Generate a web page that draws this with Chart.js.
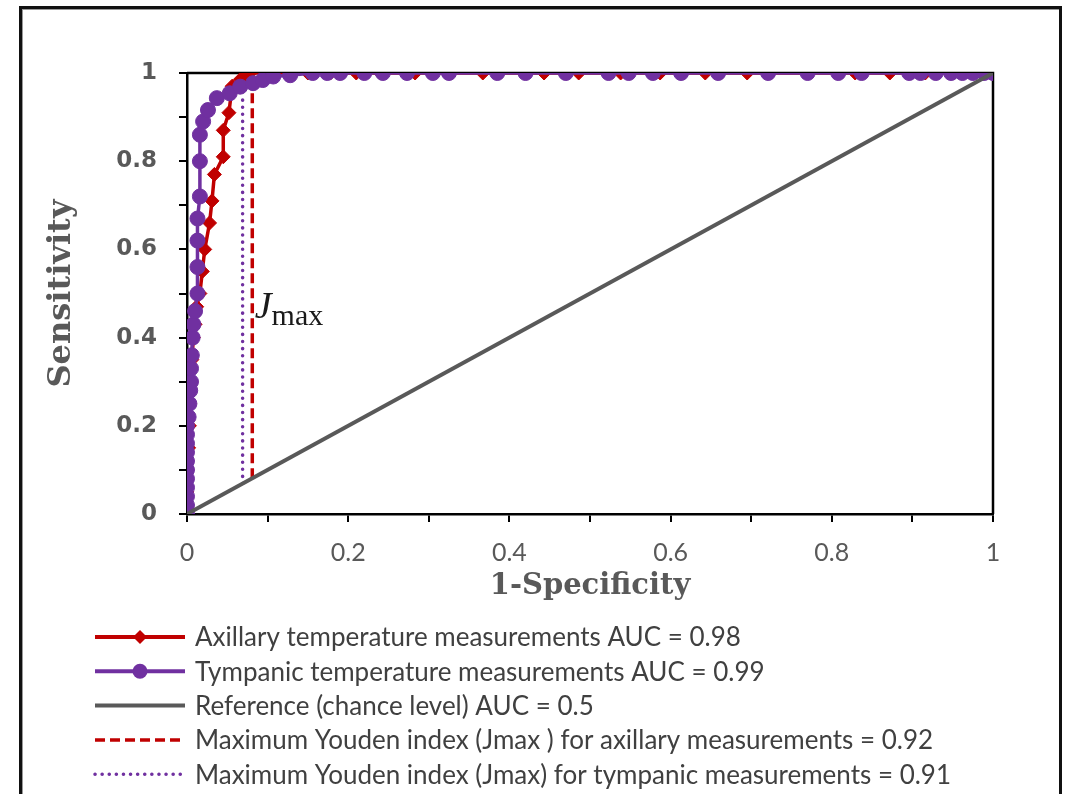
<!DOCTYPE html>
<html>
<head>
<meta charset="utf-8">
<script src="https://cdn.jsdelivr.net/npm/chart.js@4/dist/chart.umd.min.js"></script>
<style>
  html, body { margin: 0; padding: 0; background: #fff; }
  #wrap { position: relative; width: 1068px; height: 794px; overflow: hidden; }
  #frame { position: absolute; left: 19px; top: 6px; width: 1037px; height: 820px;
           border: 3px solid #111; border-bottom: none; box-shadow: inset 1px 1px 0 #999; pointer-events: none; }
  canvas { position: absolute; left: 0; top: 0; }
</style>
</head>
<body>
<div id="wrap">
  <canvas id="roc" width="1068" height="794"></canvas>
  <div id="frame"></div>
</div>
<script>
// axillary ROC (1-specificity, sensitivity)
const axFpr = [0, 0, 0, 0.002, 0.003, 0.003, 0.005, 0.006, 0.008, 0.010, 0.012, 0.016, 0.019, 0.022, 0.028, 0.031, 0.034, 0.045, 0.045, 0.052, 0.056, 0.066, 0.074, 0.078,
               0.100, 0.128, 0.150, 0.178, 0.210, 0.240, 0.283, 0.303, 0.367, 0.443, 0.486, 0.538, 0.587, 0.643, 0.695, 0.829, 0.872, 0.916, 0.960, 1];
const axTpr = [0, 0.05, 0.10, 0.15, 0.20, 0.25, 0.30, 0.35, 0.40, 0.43, 0.47, 0.50, 0.55, 0.60, 0.66, 0.71, 0.77, 0.81, 0.87, 0.91, 0.97, 0.985, 0.995, 1,
               1, 1, 1, 1, 1, 1, 1, 1, 1, 1, 1, 1, 1, 1, 1, 1, 1, 1, 1, 1];

// tympanic ROC
const tyFpr = [0, 0, 0, 0, 0, 0, 0, 0, 0, 0, 0,
               0.002, 0.003, 0.004, 0.005, 0.005, 0.006, 0.007, 0.008, 0.010,
               0.013, 0.013, 0.013, 0.013, 0.016, 0.016, 0.016,
               0.020, 0.026, 0.037, 0.053, 0.066, 0.082, 0.094, 0.107, 0.128,
               0.156, 0.174, 0.190, 0.220, 0.243, 0.273, 0.305, 0.325, 0.385, 0.420, 0.470, 0.523, 0.548, 0.578,
               0.613, 0.659, 0.721, 0.770, 0.808, 0.837, 0.896, 0.910, 0.929, 0.948, 0.962, 0.975, 0.989, 1];
const tyTpr = [0, 0.02, 0.04, 0.06, 0.08, 0.10, 0.12, 0.14, 0.16, 0.18, 0.20,
               0.22, 0.25, 0.28, 0.30, 0.33, 0.36, 0.40, 0.43, 0.46,
               0.50, 0.56, 0.62, 0.67, 0.72, 0.80, 0.86,
               0.89, 0.916, 0.943, 0.954, 0.969, 0.977, 0.984, 0.992, 0.995,
               1, 1, 1, 1, 1, 1, 1, 1, 1, 1, 1, 1, 1, 1,
               1, 1, 1, 1, 1, 1, 1, 1, 1, 1, 1, 1, 1, 1];

// chance line
const refFpr = [0, 1];
const refTpr = [0, 1];

// Youden index cut points (vertical segments)
const jAxFpr = [0.081, 0.081];
const jAxTpr = [0.081, 0.98];
const jTyFpr = [0.069, 0.069];
const jTyTpr = [0.069, 0.95];

const legendLabels = [
    'Axillary temperature measurements AUC = 0.98',
    'Tympanic temperature measurements AUC = 0.99',
    'Reference (chance level) AUC = 0.5',
    'Maximum Youden index (Jmax ) for axillary measurements = 0.92',
    'Maximum Youden index (Jmax) for tympanic measurements = 0.91'
];
const tickLabels = ['0', '0.2', '0.4', '0.6', '0.8', '1'];

const RED = '#c00000';
const PURPLE = '#7030a0';
const GREY = '#595959';

const toPoints = (xs, ys) => xs.map((x, i) => ({ x: x, y: ys[i] }));

function tickText(value) {
    const tenth = Math.round(value * 10);
    return tenth % 2 === 0 ? tickLabels[tenth / 2] : '';
}

// top/right edge of the plot box
const boxPlugin = {
    id: 'box',
    beforeDatasetsDraw(chart) {
        const { ctx, chartArea: a } = chart;
        ctx.save();
        ctx.strokeStyle = '#000';
        ctx.lineWidth = 2.5;
        ctx.beginPath();
        ctx.moveTo(a.left, a.top);
        ctx.lineTo(a.right, a.top);
        ctx.lineTo(a.right, a.bottom);
        ctx.stroke();
        ctx.restore();
    }
};

// J_max annotation
const jmaxPlugin = {
    id: 'jmax',
    afterDatasetsDraw(chart) {
        const { ctx, scales } = chart;
        const x = scales.x.getPixelForValue(0.084);
        const y = scales.y.getPixelForValue(0.445);
        ctx.save();
        ctx.fillStyle = '#1a1a1a';
        ctx.textBaseline = 'alphabetic';
        ctx.font = 'italic 38px "Liberation Serif"';
        ctx.fillText('J', x, y);
        const w = ctx.measureText('J').width;
        ctx.font = '30px "Liberation Serif"';
        ctx.fillText('max', x + w, y + 7);
        ctx.restore();
    }
};

// legend as a column under the plot, line + marker swatches
const legendPlugin = {
    id: 'colLegend',
    afterDraw(chart) {
        const { ctx, chartArea: a } = chart;
        const x0 = a.left - 92;
        const y0 = a.bottom + 123;
        const rowH = 34.3;
        ctx.save();
        chart.data.datasets.forEach((ds, i) => {
            const y = y0 + i * rowH;
            ctx.strokeStyle = ds.borderColor;
            ctx.lineWidth = ds.legendWidth || ds.borderWidth;
            ctx.lineCap = ds.borderCapStyle || 'butt';
            ctx.setLineDash(ds.borderDash || []);
            ctx.beginPath();
            ctx.moveTo(x0, y);
            ctx.lineTo(x0 + 90, y);
            ctx.stroke();
            ctx.setLineDash([]);
            ctx.lineCap = 'butt';
            if (ds.pointRadius > 0) {
                const r = ds.pointRadius;
                ctx.fillStyle = ds.pointBackgroundColor;
                ctx.beginPath();
                if (ds.pointStyle === 'circle') {
                    ctx.arc(x0 + 45, y, r, 0, Math.PI * 2);
                } else {
                    ctx.moveTo(x0 + 45, y - r);
                    ctx.lineTo(x0 + 45 + r, y);
                    ctx.lineTo(x0 + 45, y + r);
                    ctx.lineTo(x0 + 45 - r, y);
                    ctx.closePath();
                }
                ctx.fill();
            }
            ctx.fillStyle = '#404040';
            ctx.font = '26px Lato';
            ctx.textBaseline = 'middle';
            ctx.fillText(legendLabels[i], x0 + 100, y + 1);
        });
        ctx.restore();
    }
};

new Chart(document.getElementById('roc'), {
    type: 'scatter',
    data: {
        datasets: [
            {
                label: legendLabels[0],
                data: toPoints(axFpr, axTpr),
                showLine: true,
                borderColor: RED,
                backgroundColor: RED,
                pointBackgroundColor: RED,
                pointBorderColor: RED,
                borderWidth: 3.5,
                legendWidth: 4,
                pointStyle: 'rectRot',
                pointRadius: 7,
                pointBorderWidth: 1,
                order: 2
            },
            {
                label: legendLabels[1],
                data: toPoints(tyFpr, tyTpr),
                showLine: true,
                borderColor: PURPLE,
                backgroundColor: PURPLE,
                pointBackgroundColor: PURPLE,
                pointBorderColor: PURPLE,
                borderWidth: 3.5,
                legendWidth: 4,
                pointStyle: 'circle',
                pointRadius: 7.5,
                pointBorderWidth: 1,
                order: 1
            },
            {
                label: legendLabels[2],
                data: toPoints(refFpr, refTpr),
                showLine: true,
                borderColor: GREY,
                borderWidth: 4,
                pointRadius: 0,
                order: 0
            },
            {
                label: legendLabels[3],
                data: toPoints(jAxFpr, jAxTpr),
                showLine: true,
                borderColor: RED,
                borderWidth: 3.5,
                borderDash: [10, 5],
                pointRadius: 0,
                order: 3
            },
            {
                label: legendLabels[4],
                data: toPoints(jTyFpr, jTyTpr),
                showLine: true,
                borderColor: PURPLE,
                borderWidth: 3.5,
                borderDash: [0.1, 7],
                borderCapStyle: 'round',
                pointRadius: 0,
                order: 3
            }
        ]
    },
    options: {
        responsive: false,
        animation: false,
        layout: { padding: { left: 0, top: 73, right: 75, bottom: 180 } },
        plugins: {
            legend: { display: false },
            tooltip: { enabled: false }
        },
        scales: {
            x: {
                type: 'linear',
                min: 0,
                max: 1,
                afterFit(scale) { scale.height = 100; },
                border: { display: true, color: '#000', width: 2.5 },
                grid: { drawOnChartArea: false, drawTicks: true, tickLength: 8, color: '#000', lineWidth: 2 },
                ticks: {
                    stepSize: 0.1,
                    autoSkip: false,
                    maxRotation: 0,
                    padding: 16,
                    color: GREY,
                    font: { family: 'Lato', size: 25 },
                    callback: tickText
                },
                title: {
                    display: true,
                    text: '1-Specificity',
                    color: GREY,
                    font: { family: '"DejaVu Serif"', size: 29, weight: 'bold' },
                    padding: { top: 0, bottom: 10 }
                }
            },
            y: {
                type: 'linear',
                min: 0,
                max: 1,
                afterFit(scale) { scale.width = 187; },
                border: { display: true, color: '#000', width: 2.5 },
                grid: { drawOnChartArea: false, drawTicks: true, tickLength: 8, color: '#000', lineWidth: 2 },
                ticks: {
                    stepSize: 0.1,
                    autoSkip: false,
                    padding: 22,
                    color: GREY,
                    font: { family: '"DejaVu Sans"', size: 23, weight: 'bold' },
                    callback: tickText
                },
                title: {
                    display: true,
                    text: 'Sensitivity',
                    color: GREY,
                    font: { family: '"DejaVu Serif"', size: 32, weight: 'bold' },
                    padding: { top: 42, bottom: 0 }
                }
            }
        }
    },
    plugins: [boxPlugin, jmaxPlugin, legendPlugin]
});
</script>
</body>
</html>
